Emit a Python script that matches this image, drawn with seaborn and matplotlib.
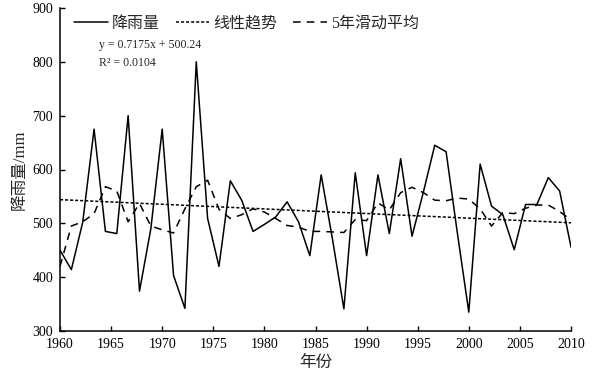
import numpy as np
import pandas as pd
import matplotlib
matplotlib.use('Agg')
import matplotlib.pyplot as plt
import seaborn as sns

# datos (46 puntos repartidos de 1960 a 2010)
rain = [450, 414, 502, 675, 485, 481, 700, 374, 490, 675,
        403, 342, 800, 509, 420, 579, 543, 485, 498, 512,
        540, 503, 440, 590, 470, 341, 594, 440, 590, 481,
        620, 476, 558, 645, 633, 481, 335, 610, 532, 516,
        451, 535, 535, 585, 560, 456]
ma5 = [420, 495, 503, 518, 568, 560, 503, 537, 495, 488,
       482, 527, 568, 580, 526, 509, 516, 527, 521, 509,
       496, 493, 485, 485, 484, 483, 507, 505, 538, 525,
       557, 567, 557, 543, 542, 547, 545, 527, 495, 520,
       518, 528, 534, 534, 522, 506]
trend_ends = [544, 501]
x_start, x_end = 1960, 2010
x_ticks = [1960, 1965, 1970, 1975, 1980, 1985, 1990, 1995, 2000, 2005, 2010]
y_ticks = [300, 400, 500, 600, 700, 800, 900]

year = np.linspace(x_start, x_end, len(rain))
df = pd.DataFrame({'year': year, 'rain': rain, 'ma': ma5})
df_trend = pd.DataFrame({'year': [x_start, x_end], 'trend': trend_ends})

sns.set_theme(style="ticks")
plt.rcParams['font.family'] = ['Liberation Serif', 'Noto Sans CJK SC']
plt.rcParams['xtick.direction'] = 'in'
plt.rcParams['ytick.direction'] = 'in'
plt.rcParams['axes.unicode_minus'] = False

fig = plt.figure(figsize=(6.01, 3.79), dpi=100)
ax = fig.add_axes([60 / 601, 1 - 331 / 379, 511 / 601, 323 / 379])

sns.lineplot(data=df, x='year', y='rain', color='black', lw=1.1, ax=ax, label='降雨量')
sns.lineplot(data=df_trend, x='year', y='trend', color='black', lw=1.1, ax=ax,
             label='线性趋势', dashes=False)
ax.lines[-1].set_dashes((2, 1.3))
sns.lineplot(data=df, x='year', y='ma', color='black', lw=1.1, ax=ax, label='5年滑动平均')
ax.lines[-1].set_dashes((5, 4))

ax.set_xlim(x_start, x_end)
ax.set_ylim(300, 900)
ax.set_xticks(x_ticks)
ax.set_yticks(y_ticks)
ax.tick_params(axis='both', labelsize=10, length=3.5, width=1, color='black', labelcolor='black')
ax.tick_params(axis='x', pad=5)
ax.tick_params(axis='y', pad=5)
for s in ['left', 'bottom']:
    ax.spines[s].set_linewidth(1.1)
    ax.spines[s].set_color('black')
sns.despine(ax=ax)

ax.set_xlabel('年份', fontsize=12, labelpad=3)
ax.set_ylabel('降雨量/mm', fontsize=12, labelpad=3)

ax.legend(ncol=3, frameon=False, loc='upper left', bbox_to_anchor=(0.0, 1.02),
          fontsize=11.5, handlelength=2.1, handletextpad=0.25, columnspacing=1.0)

ax.text(0.077, 0.875, 'y = 0.7175x + 500.24', transform=ax.transAxes, fontsize=8.5)
ax.text(0.077, 0.82, 'R² = 0.0104', transform=ax.transAxes, fontsize=8.5)

plt.savefig('out.png', dpi=100)
plt.close()
